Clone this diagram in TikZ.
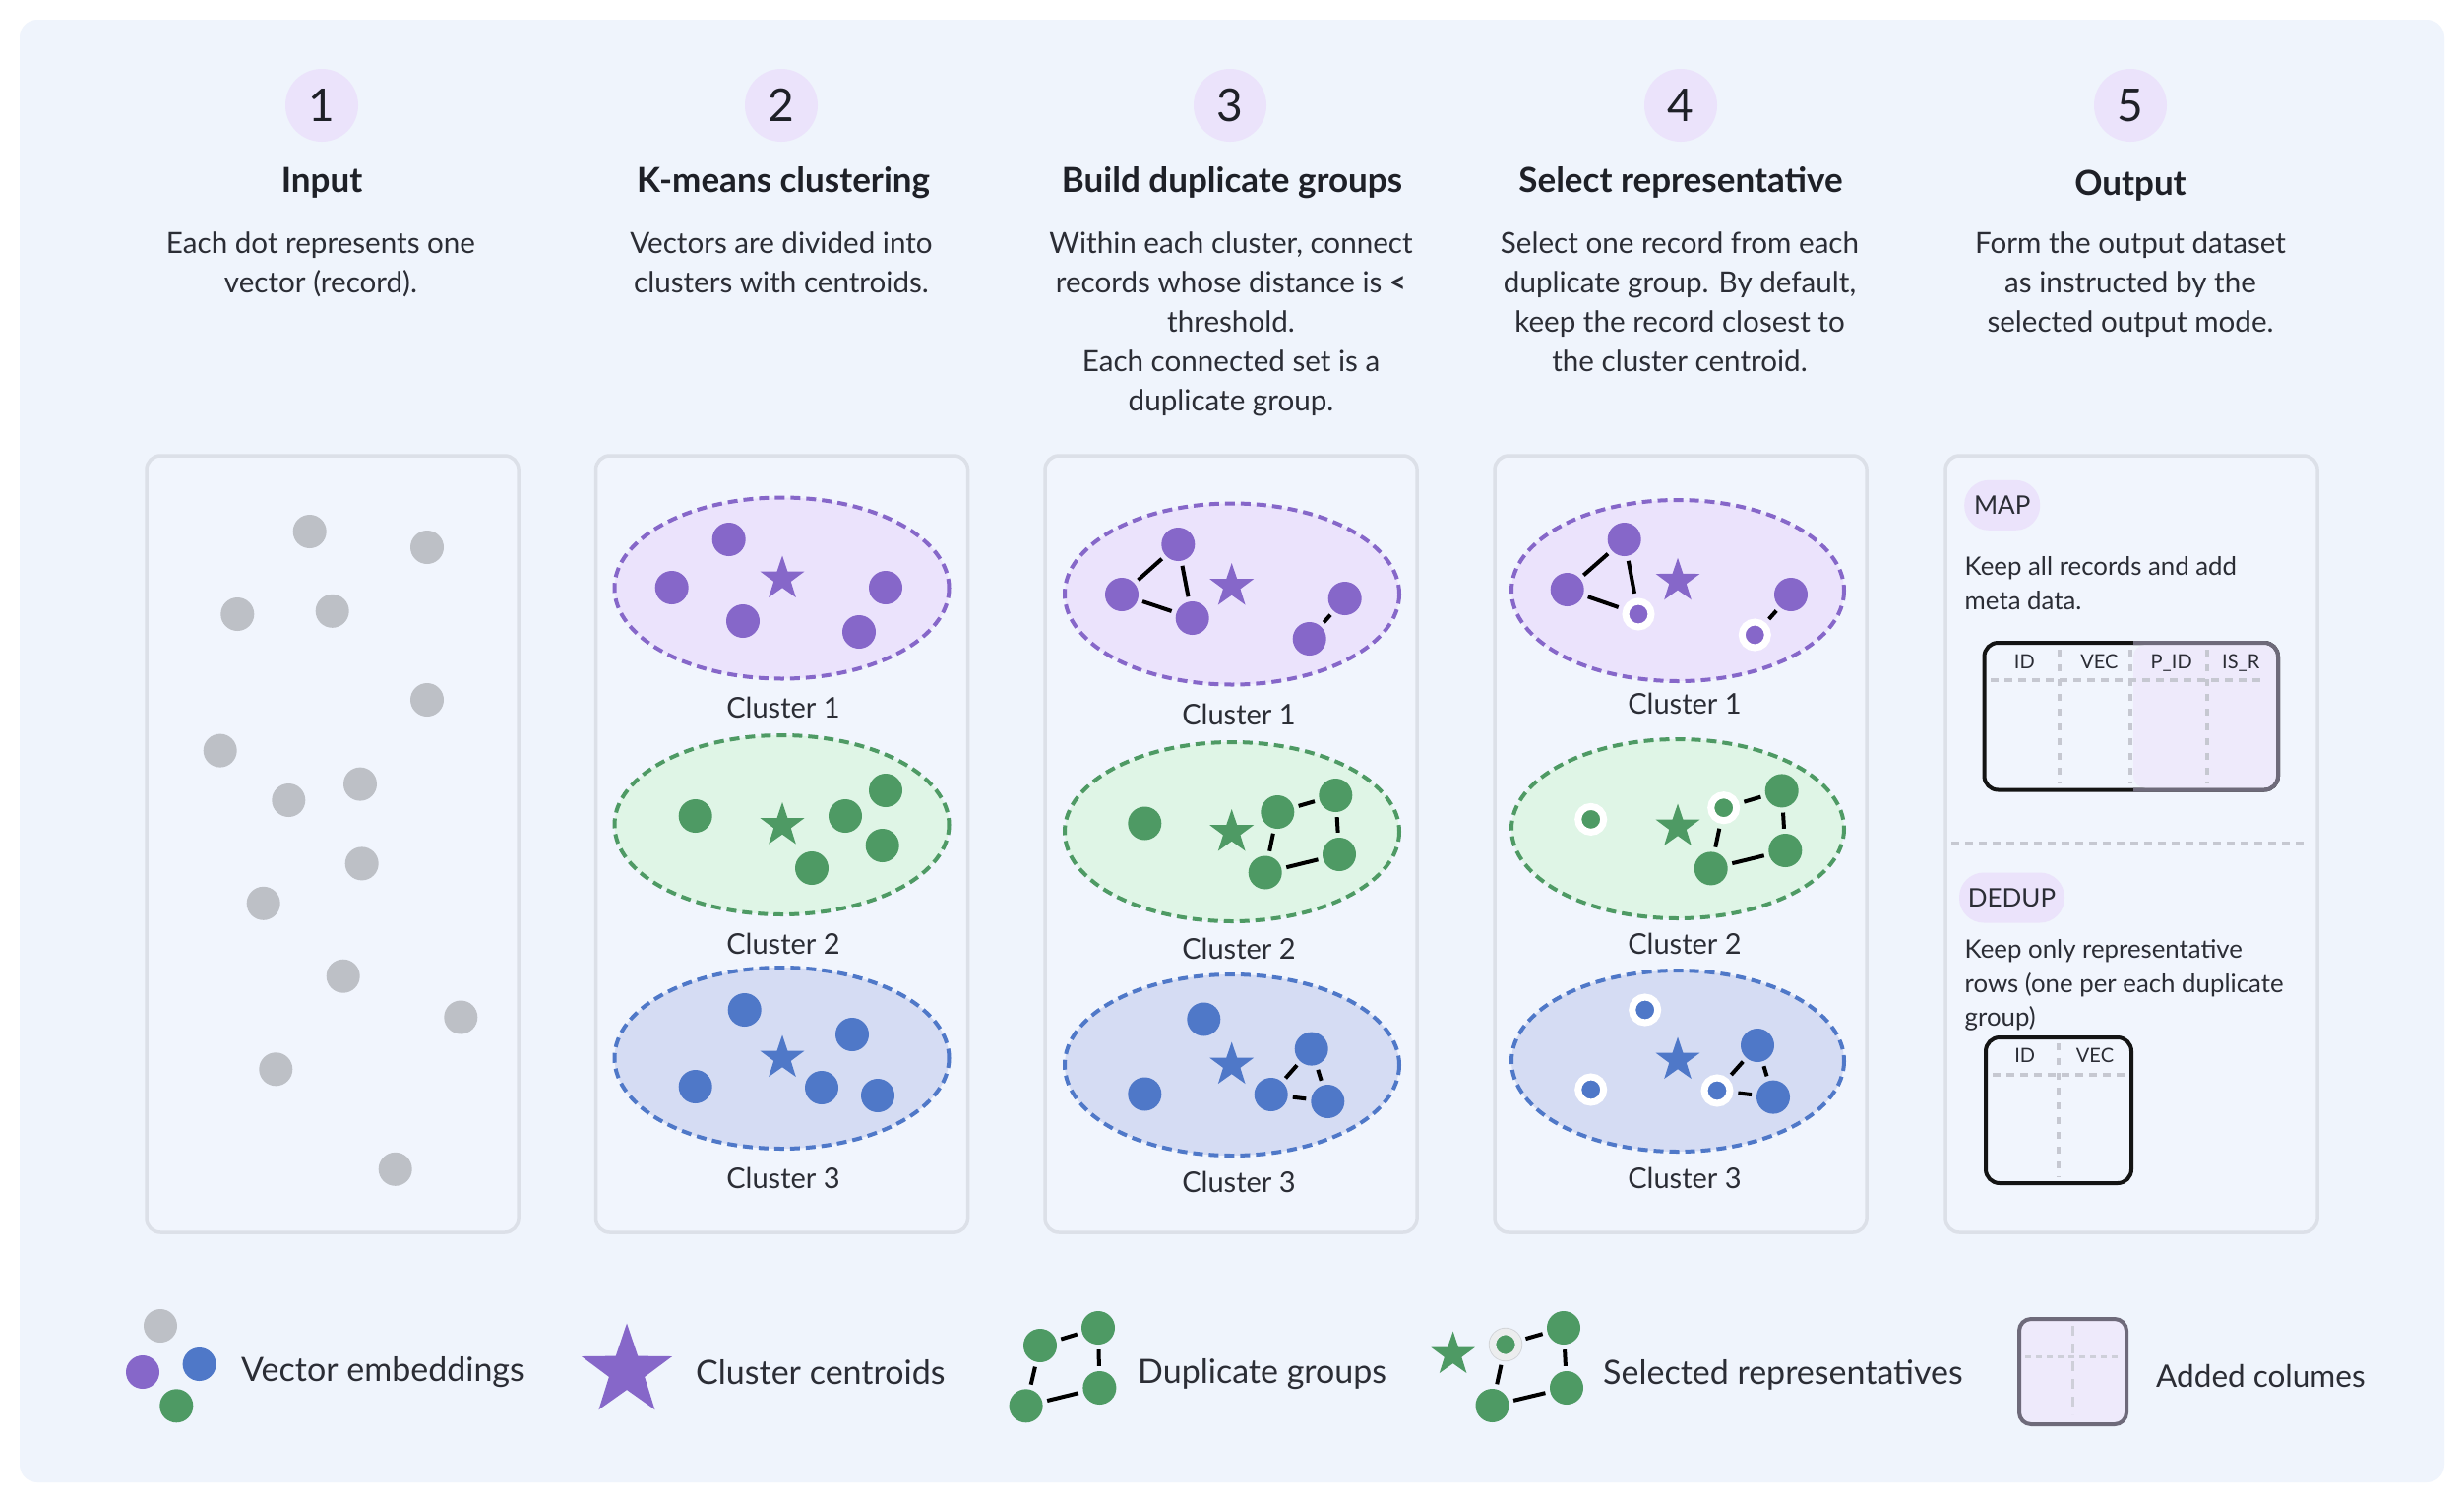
\documentclass[tikz,border=0pt]{standalone}
\usepackage{fontspec}
\setmainfont{Lato}
\usetikzlibrary{shapes.geometric}
\definecolor{bgc}{HTML}{EFF4FC}
\definecolor{pnlfill}{HTML}{F1F5FD}
\definecolor{pnlline}{HTML}{DCE0E8}
\definecolor{clav}{HTML}{EBE3FB}
\definecolor{cpur}{HTML}{8667C9}
\definecolor{cpurf}{HTML}{EBE3FC}
\definecolor{cgrn}{HTML}{4E9A64}
\definecolor{cgrnf}{HTML}{DFF5E6}
\definecolor{cblu}{HTML}{4F78C8}
\definecolor{cbluf}{HTML}{D5DCF3}
\definecolor{cgry}{HTML}{BDC0C6}
\definecolor{ctext}{HTML}{2B2D35}
\definecolor{ctitle}{HTML}{1E2027}
\definecolor{cadd}{HTML}{EEEAFB}
\definecolor{caddb}{HTML}{6E6A7A}
\definecolor{cdash}{HTML}{C6C8D1}
\definecolor{cblk}{HTML}{141414}
\definecolor{cring}{HTML}{ECEDEE}
\definecolor{cringb}{HTML}{D3D5D8}
\begin{document}
\begin{tikzpicture}[x=1pt,y=-1pt,
  pnl/.style={draw=pnlline, fill=pnlfill, line width=3.5, rounded corners=14},
  numc/.style={circle, fill=clav, minimum size=74, inner sep=0, text=ctitle, font=\fontsize{46}{50}\selectfont},
  ttl/.style={anchor=base, inner sep=0, text=ctitle, font=\fontsize{35}{40}\bfseries\selectfont},
  desc/.style={anchor=base, inner sep=0, text=ctext, font=\fontsize{29.6}{36}\selectfont},
  clab/.style={anchor=base, inner sep=0, text=ctext, font=\fontsize{29}{34}\selectfont},
  legt/.style={anchor=base west, inner sep=0, text=ctext, font=\fontsize{34}{40}\selectfont},
  ptxt/.style={anchor=base west, inner sep=0, text=ctext, font=\fontsize{25.8}{30}\selectfont},
  thd/.style={anchor=base, inner sep=0, text=ctext, font=\fontsize{20}{24}\selectfont},
  pill/.style={fill=clav, rounded corners=25, inner sep=0, minimum height=51, text=ctext, font=\fontsize{26}{30}\selectfont},
  dotbase/.style={circle, inner sep=0, minimum size=34},
  dotGr/.style={dotbase, fill=cgry},
  dotP/.style={dotbase, fill=cpur},
  dotG/.style={dotbase, fill=cgrn},
  dotB/.style={dotbase, fill=cblu},
  selbase/.style={circle, inner sep=0, minimum size=26, draw=white, line width=7},
  selP/.style={selbase, fill=cpur},
  selG/.style={selbase, fill=cgrn},
  selB/.style={selbase, fill=cblu},
  starbase/.style={star, star points=5, star point ratio=2.55, inner sep=0, minimum size=47},
  starP/.style={starbase, fill=cpur},
  starG/.style={starbase, fill=cgrn},
  starB/.style={starbase, fill=cblu},
  link/.style={line width=4, draw=black, shorten >=5, shorten <=5},
  ellP/.style={draw=cpur, fill=cpurf, line width=4, dash pattern=on 10 off 6},
  ellG/.style={draw=cgrn, fill=cgrnf, line width=4, dash pattern=on 10 off 6},
  ellB/.style={draw=cblu, fill=cbluf, line width=4, dash pattern=on 10 off 6},
  hdash/.style={draw=cdash, line width=4, dash pattern=on 8 off 6},
  vdash/.style={draw=cdash, line width=4, dash pattern=on 7 off 8},
  tbl/.style={draw=cblk, line width=4, rounded corners=14}
]
\useasboundingbox (0,0) rectangle (2504,1526);
\fill[white] (0,0) rectangle (2504,1526);
\fill[bgc, rounded corners=18] (20,20) rectangle (2484,1506);

% ---------- headers ----------
\node[numc] (n1) at (327,107) {1};
\node[numc] (n2) at (794,107) {2};
\node[numc] (n3) at (1250,107) {3};
\node[numc] (n4) at (1708,107) {4};
\node[numc] (n5) at (2165,107) {5};
\node[ttl] (t1) at (327,195) {Input};
\node[ttl] (t2) at (796,195) {K-means clustering};
\node[ttl] (t3) at (1252,195) {Build duplicate groups};
\node[ttl] (t4) at (1708,195) {Select representative};
\node[ttl] (t5) at (2165,198) {Output};

\node[desc] (d1a) at (326,257) {Each dot represents one};
\node[desc] (d1b) at (326,297) {vector (record).};
\node[desc] (d2a) at (794,257) {Vectors are divided into};
\node[desc] (d2b) at (794,297) {clusters with centroids.};
\node[desc] (d3a) at (1251,257) {Within each cluster, connect};
\node[desc] (d3b) at (1251,297) {records whose distance is \textbf{<}};
\node[desc] (d3c) at (1251,337) {threshold.};
\node[desc] (d3d) at (1251,377) {Each connected set is a};
\node[desc] (d3e) at (1251,417) {duplicate group.};
\node[desc] (d4a) at (1707,257) {Select one record from each};
\node[desc] (d4b) at (1707,297) {duplicate group. By default,};
\node[desc] (d4c) at (1707,337) {keep the record closest to};
\node[desc] (d4d) at (1707,377) {the cluster centroid.};
\node[desc] (d5a) at (2165,257) {Form the output dataset};
\node[desc] (d5b) at (2165,297) {as instructed by the};
\node[desc] (d5c) at (2165,337) {selected output mode.};

% ---------- panels ----------
\draw[pnl] (149,463) rectangle (527,1252);
\draw[pnl] (605.5,463) rectangle (983.5,1252);
\draw[pnl] (1062,463) rectangle (1440,1252);
\draw[pnl] (1519,463) rectangle (1897,1252);
\draw[pnl] (1977,463) rectangle (2355,1252);

% ---------- panel 1 ----------
\node[dotGr] (g1) at (314.7,540) {};
\node[dotGr] (g2) at (434,556) {};
\node[dotGr] (g3) at (241.3,624) {};
\node[dotGr] (g4) at (337.7,620.8) {};
\node[dotGr] (g5) at (434,711) {};
\node[dotGr] (g6) at (223.7,762.6) {};
\node[dotGr] (g7) at (293.3,813) {};
\node[dotGr] (g8) at (366,796.6) {};
\node[dotGr] (g9) at (367.7,877.4) {};
\node[dotGr] (g10) at (267.7,917.8) {};
\node[dotGr] (g11) at (348.7,991.7) {};
\node[dotGr] (g12) at (468.3,1033.5) {};
\node[dotGr] (g13) at (280.3,1086.3) {};
\node[dotGr] (g14) at (401.7,1187.8) {};

% ---------- panel 2 ----------
\draw[ellP] (794.5,597.5) ellipse [x radius=170, y radius=92];
\draw[ellG] (794.5,838) ellipse [x radius=170, y radius=91];
\draw[ellB] (794.5,1075) ellipse [x radius=170, y radius=92];
\node[dotP] (q2a) at (740.7,548) {};
\node[dotP] (q2b) at (682.7,597) {};
\node[dotP] (q2c) at (755,631) {};
\node[dotP] (q2d) at (900,597) {};
\node[dotP] (q2e) at (873,642) {};
\node[starP] (s2p) at (795,588) {};
\node[dotG] (q2f) at (706.7,829) {};
\node[dotG] (q2g) at (859,829) {};
\node[dotG] (q2h) at (900,803) {};
\node[dotG] (q2i) at (896.7,859) {};
\node[dotG] (q2j) at (825,882) {};
\node[starG] (s2g) at (795,838.5) {};
\node[dotB] (q2k) at (756.7,1026) {};
\node[dotB] (q2l) at (866,1051) {};
\node[dotB] (q2m) at (706.7,1104) {};
\node[dotB] (q2n) at (835,1105) {};
\node[dotB] (q2o) at (892,1113) {};
\node[starB] (s2b) at (795,1075) {};
\node[clab] (c21) at (796,729) {Cluster 1};
\node[clab] (c22) at (796,969) {Cluster 2};
\node[clab] (c23) at (796,1207) {Cluster 3};

% ---------- panel 3 ----------
\draw[ellP] (1252,603.5) ellipse [x radius=170, y radius=92];
\draw[ellG] (1252,845) ellipse [x radius=170, y radius=91];
\draw[ellB] (1252,1082) ellipse [x radius=170, y radius=92];
\node[dotP] (q3a) at (1197.3,553) {};
\node[dotP] (q3b) at (1140,604) {};
\node[dotP] (q3c) at (1211.7,628) {};
\node[dotP] (q3d) at (1366.7,608) {};
\node[dotP] (q3e) at (1330.7,649) {};
\node[starP] (s3p) at (1251.7,595.5) {};
\node[dotG] (q3f) at (1163.3,836.5) {};
\node[dotG] (q3g) at (1298.3,825) {};
\node[dotG] (q3h) at (1357.3,808) {};
\node[dotG] (q3i) at (1361,868) {};
\node[dotG] (q3j) at (1285.7,886.5) {};
\node[starG] (s3g) at (1251.7,845.5) {};
\node[dotB] (q3k) at (1223.3,1035.5) {};
\node[dotB] (q3l) at (1332.7,1065.6) {};
\node[dotB] (q3m) at (1163.3,1111.5) {};
\node[dotB] (q3n) at (1291.7,1112) {};
\node[dotB] (q3o) at (1349.3,1119) {};
\node[starB] (s3b) at (1251.7,1082) {};
\draw[link] (q3a) -- (q3b);
\draw[link] (q3a) -- (q3c);
\draw[link] (q3b) -- (q3c);
\draw[link] (q3d) -- (q3e);
\draw[link] (q3g) -- (q3h);
\draw[link] (q3h) -- (q3i);
\draw[link] (q3i) -- (q3j);
\draw[link] (q3j) -- (q3g);
\draw[link] (q3n) -- (q3l);
\draw[link] (q3l) -- (q3o);
\draw[link] (q3n) -- (q3o);
\node[clab] (c31) at (1259,736) {Cluster 1};
\node[clab] (c32) at (1259,974) {Cluster 2};
\node[clab] (c33) at (1259,1211) {Cluster 3};

% ---------- panel 4 ----------
\draw[ellP] (1705,600) ellipse [x radius=169, y radius=92];
\draw[ellG] (1705,842) ellipse [x radius=169, y radius=91];
\draw[ellB] (1705,1078) ellipse [x radius=169, y radius=92];
\node[dotP] (q4a) at (1650.7,548) {};
\node[dotP] (q4b) at (1592.7,599) {};
\node[selP] (q4c) at (1665,624) {};
\node[dotP] (q4d) at (1820,604) {};
\node[selP] (q4e) at (1783.3,645) {};
\node[starP] (s4p) at (1705,590.3) {};
\node[selG] (q4f) at (1616.7,832.4) {};
\node[selG] (q4g) at (1751.7,820.7) {};
\node[dotG] (q4h) at (1810.7,803.4) {};
\node[dotG] (q4i) at (1814.3,864) {};
\node[dotG] (q4j) at (1738.7,882.4) {};
\node[starG] (s4g) at (1705,840) {};
\node[selB] (q4k) at (1671.7,1026) {};
\node[dotB] (q4l) at (1786,1062) {};
\node[selB] (q4m) at (1616.7,1107) {};
\node[selB] (q4n) at (1745,1108) {};
\node[dotB] (q4o) at (1802,1114.6) {};
\node[starB] (s4b) at (1705,1077) {};
\draw[link] (q4a) -- (q4b);
\draw[link] (q4a) -- (q4c);
\draw[link] (q4b) -- (q4c);
\draw[link] (q4d) -- (q4e);
\draw[link] (q4g) -- (q4h);
\draw[link] (q4h) -- (q4i);
\draw[link] (q4i) -- (q4j);
\draw[link] (q4j) -- (q4g);
\draw[link] (q4n) -- (q4l);
\draw[link] (q4l) -- (q4o);
\draw[link] (q4n) -- (q4o);
\node[clab] (c41) at (1712,725) {Cluster 1};
\node[clab] (c42) at (1712,969) {Cluster 2};
\node[clab] (c43) at (1712,1207) {Cluster 3};

% ---------- panel 5 ----------
\node[pill, minimum width=77] (map) at (2034.7,513.3) {MAP};
\node[ptxt] (m1) at (1996.5,584) {Keep all records and add};
\node[ptxt] (m2) at (1996.5,619) {meta data.};
\draw[tbl] (2016.5,653) rectangle (2315,802.5);
\fill[cadd, rounded corners=12] (2168,655) rectangle (2313,800.5);
\draw[draw=caddb, line width=4, rounded corners=14] (2168,653) -- (2315,653) -- (2315,802.5) -- (2168,802.5);
\draw[hdash] (2023,690.7) -- (2302,690.7);
\draw[vdash] (2093.3,660) -- (2093.3,796);
\draw[vdash] (2165,660) -- (2165,796);
\draw[vdash] (2243.3,660) -- (2243.3,796);
\node[thd] (h1) at (2057.3,679.3) {ID};
\node[thd] (h2) at (2133.3,679.3) {VEC};
\node[thd] (h3) at (2206.7,679.3) {P\_ID};
\node[thd] (h4) at (2277.3,679.3) {IS\_R};
\draw[hdash] (1983,857) -- (2348,857);
\node[pill, minimum width=107] (dedup) at (2044.5,912) {DEDUP};
\node[ptxt] (u1) at (1996.5,973.5) {Keep only representative};
\node[ptxt] (u2) at (1996.5,1008) {rows (one per each duplicate};
\node[ptxt] (u3) at (1996.5,1042.5) {group)};
\draw[tbl] (2018,1054) rectangle (2166,1202);
\draw[hdash] (2025,1091.6) -- (2160,1091.6);
\draw[vdash] (2091.7,1060) -- (2091.7,1196);
\node[thd] (h5) at (2057.7,1079) {ID};
\node[thd] (h6) at (2129,1079) {VEC};

% ---------- legend ----------
\node[dotGr] (lg1) at (163,1347) {};
\node[dotP] (lg2) at (145,1394) {};
\node[dotB] (lg3) at (202.6,1386) {};
\node[dotG] (lg4) at (179.3,1428.3) {};
\node[legt] (lt1) at (245,1403) {Vector embeddings};
\node[starP, minimum size=97] (lstar) at (637,1393) {};
\node[legt] (lt2) at (707,1406) {Cluster centroids};
\node[dotG] (ld1) at (1057,1367) {};
\node[dotG] (ld2) at (1116,1349) {};
\node[dotG] (ld3) at (1117.4,1410) {};
\node[dotG] (ld4) at (1042.6,1428.3) {};
\draw[link] (ld1) -- (ld2);
\draw[link] (ld2) -- (ld3);
\draw[link] (ld3) -- (ld4);
\draw[link] (ld4) -- (ld1);
\node[legt] (lt3) at (1156,1405) {Duplicate groups};
\node[starG] (lsg) at (1476.6,1376) {};
\node[circle, inner sep=0, minimum size=33.5, draw=cringb, line width=1] (ls0) at (1530,1366) {};
\node[circle, inner sep=0, minimum size=26, fill=cgrn, draw=cring, line width=6.5] (ls1) at (1530,1366) {};
\node[dotG] (ls2) at (1589,1349) {};
\node[dotG] (ls3) at (1592,1410) {};
\node[dotG] (ls4) at (1516.5,1428) {};
\draw[link] (ls1) -- (ls2);
\draw[link] (ls2) -- (ls3);
\draw[link] (ls3) -- (ls4);
\draw[link] (ls4) -- (ls1);
\node[legt] (lt4) at (1629,1406) {Selected representatives};
\draw[draw=caddb, fill=cadd, line width=4, rounded corners=12] (2052,1340) rectangle (2161,1447);
\draw[draw=cdash!80!cadd, line width=3, dash pattern=on 10 off 8] (2106.6,1347) -- (2106.6,1437);
\draw[draw=cdash!80!cadd, line width=3, dash pattern=on 6 off 5] (2058,1378) -- (2155,1378);
\node[legt, font=\fontsize{31.5}{38}\selectfont] (lt5) at (2191,1409) {Added columes};
\end{tikzpicture}
\end{document}
